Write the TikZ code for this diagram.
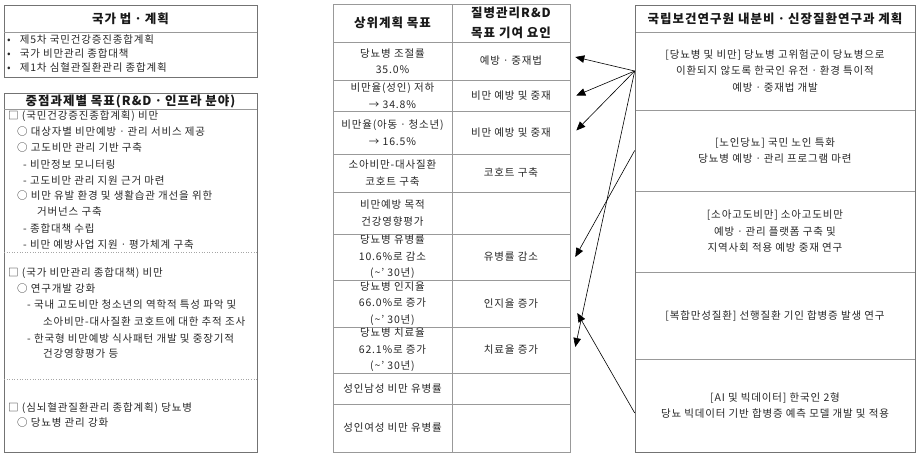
\documentclass[tikz,border=0pt]{standalone}
\usepackage{fontspec}
\setmainfont{Noto Sans CJK KR}[LetterSpace=8]
\usetikzlibrary{arrows.meta}
\begin{document}
\begin{tikzpicture}[x=1pt,y=-1pt,
  frame/.style={draw=black!55, line width=0.8pt},
  sep/.style={draw=black!40, line width=0.6pt},
  dotsep/.style={draw=black!35, dotted, line width=0.6pt},
  ttl/.style={font=\fontsize{12.5}{20}\selectfont\bfseries, text=black!90, align=center, inner sep=0pt},
  item/.style={anchor=west, font=\fontsize{10.5}{12}\selectfont, text=black!85, inner sep=0pt},
  cell/.style={draw=black!40, line width=0.6pt, inner sep=0pt, align=center,
    font=\fontsize{10.5}{16.5}\selectfont, text=black!85},
  hcell/.style={cell, font=\fontsize{12.5}{20}\selectfont\bfseries, text=black!90},
  conn/.style={-{Triangle[length=9pt,width=7.5pt]}, line width=0.6pt, black}]
\useasboundingbox (0,0) rectangle (924,459);

% ---------- left panel: box 1
\draw[frame] (4,5) rectangle (257,77);
\draw[sep] (4,32) -- (257,32);
\node[ttl] (lt1) at (130.5,18.5) {국가 법ㆍ계획};
\node[item] (lb1) at (7,40) {•\hspace{9pt}제5차 국민건강증진종합계획};
\node[item] (lb2) at (7,54) {•\hspace{9pt}국가 비만관리 종합대책};
\node[item] (lb3) at (7,68) {•\hspace{9pt}제1차 심혈관질환관리 종합계획};

% ---------- left panel: box 2
\draw[frame] (4,93) rectangle (257,452);
\draw[sep] (4,109) -- (257,109);
\node[ttl] (lt2) at (130.5,101) {중점과제별 목표(R\&Dㆍ인프라 분야)};
\node[item] (l1) at (8,116) {□ (국민건강증진종합계획) 비만};
\node[item] (l2) at (17,132) {○ 대상자별 비만예방ㆍ관리 서비스 제공};
\node[item] (l3) at (17,148) {○ 고도비만 관리 기반 구축};
\node[item] (l4) at (23,164.5) {- 비만정보 모니터링};
\node[item] (l5) at (23,181) {- 고도비만 관리 지원 근거 마련};
\node[item] (l6) at (17,196) {○ 비만 유발 환경 및 생활습관 개선을 위한};
\node[item] (l7) at (37,212) {거버넌스 구축};
\node[item] (l8) at (23,229) {- 종합대책 수립};
\node[item] (l9) at (23,245) {- 비만 예방사업 지원ㆍ평가체계 구축};
\draw[dotsep] (4,252) -- (257,252);
\node[item] (l10) at (8,273) {□ (국가 비만관리 종합대책) 비만};
\node[item] (l11) at (17,289) {○ 연구개발 강화};
\node[item] (l12) at (27,305) {- 국내 고도비만 청소년의 역학적 특성 파악 및};
\node[item] (l13) at (43,322) {소아비만-대사질환 코호트에 대한 추적 조사};
\node[item] (l14) at (27,338.5) {- 한국형 비만예방 식사패턴 개발 및 중장기적};
\node[item] (l15) at (43,354) {건강영향평가 등};
\draw[dotsep] (4,379) -- (257,379);
\node[item] (l16) at (8,408) {□ (심뇌혈관질환관리 종합계획) 당뇨병};
\node[item] (l17) at (17,423) {○ 당뇨병 관리 강화};

% ---------- middle table
\node[hcell, minimum width=119pt, minimum height=38pt] (h1) at (392.5,23) {상위계획 목표};
\node[hcell, minimum width=118pt, minimum height=38pt] (h2) at (511,23) {질병관리R\&D\\목표 기여 요인};

\node[cell, minimum width=119pt, minimum height=38pt] (p1) at (392.5,61) {당뇨병 조절률\\35.0\%};
\node[cell, minimum width=118pt, minimum height=38pt] (f1) at (511,61) {예방ㆍ중재법};
\node[cell, minimum width=119pt, minimum height=31pt] (p2) at (392.5,95.5) {비만율(성인) 저하\\→ 34.8\%};
\node[cell, minimum width=118pt, minimum height=31pt] (f2) at (511,95.5) {비만 예방 및 중재};
\node[cell, minimum width=119pt, minimum height=43pt] (p3) at (392.5,132.5) {비만율(아동ㆍ청소년)\\→ 16.5\%};
\node[cell, minimum width=118pt, minimum height=43pt] (f3) at (511,132.5) {비만 예방 및 중재};
\node[cell, minimum width=119pt, minimum height=38pt] (p4) at (392.5,173) {소아비만-대사질환\\코호트 구축};
\node[cell, minimum width=118pt, minimum height=38pt] (f4) at (511,173) {코호트 구축};
\node[cell, minimum width=119pt, minimum height=42pt] (p5) at (392.5,213) {비만예방 목적\\건강영향평가};
\node[cell, minimum width=118pt, minimum height=42pt] (f5) at (511,213) {};
\node[cell, minimum width=119pt, minimum height=46pt] (p6) at (392.5,257) {당뇨병 유병률\\10.6\%로 감소\\(\textasciitilde’ 30년)};
\node[cell, minimum width=118pt, minimum height=46pt] (f6) at (511,257) {유병률 감소};
\node[cell, minimum width=119pt, minimum height=47pt] (p7) at (392.5,303.5) {당뇨병 인지율\\66.0\%로 증가\\(\textasciitilde’ 30년)};
\node[cell, minimum width=118pt, minimum height=47pt] (f7) at (511,303.5) {인지율 증가};
\node[cell, minimum width=119pt, minimum height=46pt] (p8) at (392.5,350) {당뇨병 치료율\\62.1\%로 증가\\(\textasciitilde’ 30년)};
\node[cell, minimum width=118pt, minimum height=46pt] (f8) at (511,350) {치료율 증가};
\node[cell, minimum width=119pt, minimum height=31pt] (p9) at (392.5,388.5) {성인남성 비만 유병률};
\node[cell, minimum width=118pt, minimum height=31pt] (f9) at (511,388.5) {};
\node[cell, minimum width=119pt, minimum height=48pt] (p10) at (392.5,428) {성인여성 비만 유병률};
\node[cell, minimum width=118pt, minimum height=48pt] (f10) at (511,428) {};

% ---------- right panel
\node[hcell, minimum width=280pt, minimum height=27pt] (qh) at (775,18.5) {국립보건연구원 내분비ㆍ신장질환연구과 계획};
\node[cell, minimum width=280pt, minimum height=78pt] (q1) at (775,71) {[당뇨병 및 비만] 당뇨병 고위험군이 당뇨병으로\\이환되지 않도록 한국인 유전ㆍ환경 특이적\\예방ㆍ중재법 개발};
\node[cell, minimum width=280pt, minimum height=81pt] (q2) at (775,150.5) {[노인당뇨] 국민 노인 특화\\당뇨병 예방ㆍ관리 프로그램 마련};
\node[cell, minimum width=280pt, minimum height=81pt] (q3) at (775,231.5) {[소아고도비만] 소아고도비만\\예방ㆍ관리 플랫폼 구축 및\\지역사회 적용 예방 중재 연구};
\node[cell, minimum width=280pt, minimum height=87pt] (q4) at (775,315.5) {[복합만성질환] 선행질환 기인 합병증 발생 연구};
\node[cell, minimum width=280pt, minimum height=93pt] (q5) at (775,405.5) {[AI 및 빅데이터] 한국인 2형\\당뇨 빅데이터 기반 합병증 예측 모델 개발 및 적용};
\draw[frame] (635,5) rectangle (915,452);

% ---------- connectors
\draw[conn] (q1.west) -- ([xshift=5pt,yshift=4pt]f1.east);
\draw[conn] (q1.west) -- ([xshift=6pt]f2.east);
\draw[conn] (q1.west) -- ([xshift=6pt,yshift=2pt]f3.east);
\draw[conn] (q1.west) -- ([xshift=5pt,yshift=3pt]f8.east);
\draw[conn] (q2.west) -- ([xshift=5pt]f6.east);
\draw[conn] ([yshift=-7.5pt]q5.west) -- ([xshift=7pt,yshift=-9.5pt]f7.east);
\end{tikzpicture}
\end{document}
